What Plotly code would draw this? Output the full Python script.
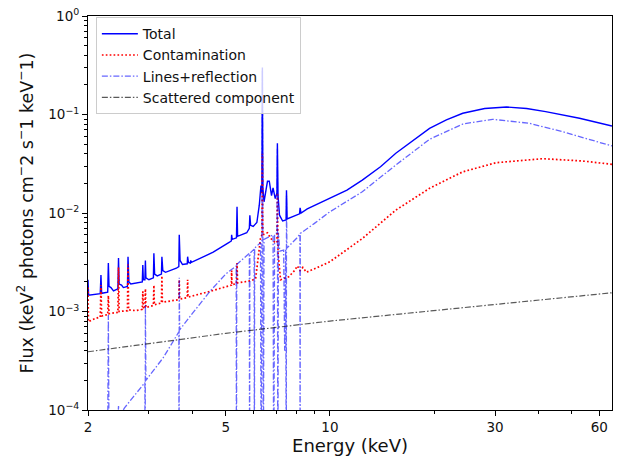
import math
import plotly.graph_objects as go

# ---------------- data ----------------
# Total model (solid blue)
E_total = [2.000, 2.008, 2.17, 2.18, 2.19, 2.28, 2.29, 2.30, 2.33, 2.37,
           2.44, 2.45, 2.46, 2.50, 2.53, 2.60, 2.61, 2.625, 2.66, 2.80,
           2.87, 2.88, 2.89, 2.92, 2.93, 2.94, 3.00, 3.09, 3.10, 3.115,
           3.17, 3.26, 3.27, 3.29, 3.35, 3.60, 3.66, 3.67, 3.69, 3.75,
           3.87, 3.88, 3.90, 3.95, 3.96, 3.98, 4.20, 4.60, 5.10, 5.19,
           5.20, 5.22, 5.37, 5.39, 5.41, 5.75, 5.85, 5.87, 5.90, 6.00,
           6.15, 6.25, 6.32, 6.36, 6.38, 6.40, 6.45, 6.60, 6.68, 6.78,
           6.85, 6.95, 7.03, 7.05, 7.08, 7.15, 7.30, 7.47, 7.49, 7.52,
           8.00, 8.17, 8.20, 8.25, 8.60, 10.0, 11.2, 12.4, 14.0, 15.5,
           17.4, 19.4, 21.7, 24.2, 28.0, 32.4, 37.0, 42.0, 52.6, 65.3]
F_total = [2.1e-3, 1.46e-3, 1.52e-3, 2.35e-3, 1.53e-3, 1.57e-3, 3.1e-3, 1.8e-3, 1.75e-3, 1.62e-3,
           1.7e-3, 3.5e-3, 1.9e-3, 1.85e-3, 1.75e-3, 1.8e-3, 3.6e-3, 2.0e-3, 1.9e-3, 1.95e-3,
           2.0e-3, 2.96e-3, 2.1e-3, 2.1e-3, 3.3e-3, 2.2e-3, 2.1e-3, 2.2e-3, 3.9e-3, 2.4e-3,
           2.3e-3, 2.4e-3, 3.6e-3, 2.6e-3, 2.5e-3, 2.75e-3, 2.85e-3, 6.0e-3, 3.3e-3, 3.0e-3,
           3.05e-3, 3.6e-3, 3.15e-3, 3.1e-3, 3.3e-3, 3.15e-3, 3.45e-3, 4.0e-3, 5.0e-3, 5.2e-3,
           6.0e-3, 5.4e-3, 5.6e-3, 1.16e-2, 5.8e-3, 6.3e-3, 7.0e-3, 9.5e-3, 7.5e-3, 7.3e-3,
           8.0e-3, 1.2e-2, 1.9e-2, 1.6e-2, 0.30, 1.8e-2, 1.3e-2, 2.1e-2, 2.1e-2, 1.5e-2,
           1.8e-2, 1.4e-2, 1.6e-2, 0.051, 1.5e-2, 9.5e-3, 8.3e-3, 8.5e-3, 1.7e-2, 8.7e-3,
           9.5e-3, 9.8e-3, 1.13e-2, 1.0e-2, 1.1e-2, 1.42e-2, 1.71e-2, 2.16e-2, 2.95e-2, 4.04e-2,
           5.42e-2, 7.24e-2, 8.8e-2, 0.103, 0.115, 0.119, 0.115, 0.107, 0.0915, 0.0764]

# Contamination (red dotted)
E_cont = [2.000, 2.006, 2.10, 2.17, 2.18, 2.19, 2.28, 2.29, 2.30, 2.44,
          2.45, 2.46, 2.60, 2.61, 2.62, 2.75, 2.87, 2.88, 2.89, 2.92,
          2.93, 2.94, 3.09, 3.10, 3.11, 3.26, 3.27, 3.28, 3.66, 3.67,
          3.68, 3.87, 3.88, 3.89, 4.50, 5.00, 5.19, 5.20, 5.21, 5.37,
          5.39, 5.41, 5.90, 6.10, 6.20, 6.30, 6.36, 6.38, 6.40, 6.60,
          6.75, 6.95, 7.03, 7.05, 7.08, 7.20, 7.60, 7.90, 8.05, 8.20,
          8.35, 8.55, 9.20, 10.0, 12.4, 15.5, 19.4, 24.2, 30.2, 41.2,
          53.7, 65.3]
F_cont = [1.75e-3, 7.9e-4, 8.5e-4, 8.8e-4, 1.85e-3, 9.0e-4, 9.3e-4, 1.45e-3, 9.5e-4, 9.8e-4,
          2.8e-3, 1.0e-3, 1.02e-3, 3.0e-3, 1.04e-3, 1.02e-3, 1.05e-3, 1.6e-3, 1.07e-3, 1.08e-3,
          1.7e-3, 1.1e-3, 1.15e-3, 1.85e-3, 1.17e-3, 1.22e-3, 2.3e-3, 1.24e-3, 1.32e-3, 2.1e-3,
          1.34e-3, 1.38e-3, 2.1e-3, 1.4e-3, 1.6e-3, 1.78e-3, 1.85e-3, 2.6e-3, 1.87e-3, 1.92e-3,
          3.1e-3, 1.95e-3, 2.05e-3, 2.15e-3, 3.5e-3, 5.5e-3, 6.0e-3, 0.04, 6.0e-3, 6.3e-3,
          5.5e-3, 5.0e-3, 5.0e-3, 0.016, 4.0e-3, 2.1e-3, 2.25e-3, 2.6e-3, 2.9e-3, 2.6e-3,
          2.8e-3, 2.5e-3, 2.8e-3, 3.2e-3, 5.5e-3, 1.07e-2, 1.78e-2, 2.62e-2, 3.24e-2, 3.56e-2,
          3.37e-2, 3.12e-2]

# Lines + reflection (light blue dash-dot)
E_lines = [2.00, 2.28, 2.29, 2.30, 2.44, 2.45, 2.46, 2.55, 2.70, 2.92,
           2.925, 2.93, 2.94, 3.30, 3.66, 3.665, 3.67, 3.68, 4.00, 4.50,
           5.00, 5.36, 5.37, 5.38, 5.85, 5.86, 5.87, 6.04, 6.05, 6.06,
           6.30, 6.33, 6.36, 6.38, 6.40, 6.42, 6.45, 6.85, 6.88, 6.92,
           7.03, 7.05, 7.07, 7.10, 7.16, 7.35, 7.40, 7.45, 7.48, 7.49,
           7.51, 8.00, 8.19, 8.20, 8.21, 9.00, 10.0, 12.4, 15.5, 19.4,
           24.2, 29.5, 37.7, 47.0, 65.3]
F_lines = [3.0e-5, 5.0e-5, 9.2e-4, 5.0e-5, 8.0e-5, 1.1e-4, 8.5e-5, 1.05e-4, 1.35e-4, 1.9e-4,
           1e-5, 1.17e-3, 2.0e-4, 3.4e-4, 6.2e-4, 1e-5, 2.2e-3, 6.5e-4, 9.5e-4, 1.6e-3,
           2.4e-3, 2.9e-3, 1e-5, 3.0e-3, 3.9e-3, 1e-5, 3.9e-3, 4.3e-3, 1e-5, 4.4e-3,
           5.0e-3, 1e-5, 5.0e-3, 0.28, 5.3e-3, 1e-5, 5.4e-3, 6.0e-3, 1e-5, 6.1e-3,
           6.3e-3, 0.045, 1e-5, 6.3e-3, 4.1e-3, 4.2e-3, 4.0e-4, 4.3e-3, 1e-5, 0.015,
           4.4e-3, 5.5e-3, 6.1e-3, 1e-5, 6.2e-3, 7.8e-3, 1.03e-2, 1.64e-2, 3.07e-2, 5.6e-2,
           8.0e-2, 8.94e-2, 8.14e-2, 6.69e-2, 4.79e-2]

# Scattered component (grey dash-dot)
E_scat = [2.0, 5.0, 10.0, 30.0, 65.3]
F_scat = [3.9e-4, 6.0e-4, 8.0e-4, 1.18e-3, 1.55e-3]

# axis ticks
x_ticks = [2, 5, 10, 30, 60]
x_ticklabels = ["2", "5", "10", "30", "60"]
x_minor = [3, 4, 6, 7, 8, 9, 20, 40, 50]
y_ticks = [1e-4, 1e-3, 1e-2, 1e-1, 1]
y_ticklabels = ["10<sup>\u22124</sup>", "10<sup>\u22123</sup>", "10<sup>\u22122</sup>",
                "10<sup>\u22121</sup>", "10<sup>0</sup>"]
y_minor = [k * 10.0 ** e for e in (-4, -3, -2, -1) for k in range(2, 10)]

# ---------------- figure ----------------
fig = go.Figure()
fig.add_trace(go.Scatter(x=E_total, y=F_total, mode="lines", name="Total",
                         line=dict(color="#0000ff", width=1.4)))
fig.add_trace(go.Scatter(x=E_cont, y=F_cont, mode="lines", name="Contamination",
                         line=dict(color="#ff0000", width=1.7, dash="1.7px,2.2px")))
fig.add_trace(go.Scatter(x=E_lines, y=F_lines, mode="lines", name="Lines+reflection",
                         line=dict(color="rgba(0,0,255,0.6)", width=1.3,
                                   dash="6px,2px,1.5px,2px")))
fig.add_trace(go.Scatter(x=E_scat, y=F_scat, mode="lines", name="Scattered component",
                         line=dict(color="rgba(0,0,0,0.65)", width=1.2,
                                   dash="6px,2px,1.5px,2px")))

axis_common = dict(showline=True, linecolor="#000000", linewidth=1, mirror=True,
                   showgrid=False, zeroline=False, ticks="outside", ticklen=5,
                   tickwidth=1, tickcolor="#000000", automargin=False,
                   ticklabeloverflow="allow",
                   tickfont=dict(size=13.5, color="#111111"))

fig.update_xaxes(type="log", range=[math.log10(2), math.log10(65.3)],
                 tickmode="array", tickvals=x_ticks, ticktext=x_ticklabels,
                 minor=dict(tickmode="array", tickvals=x_minor, ticks="outside",
                            ticklen=3, tickcolor="#000000"),
                 title=dict(text="Energy (keV)", font=dict(size=18, color="#111111"),
                            standoff=5),
                 **axis_common)
fig.update_yaxes(type="log", range=[-4, 0],
                 tickmode="array", tickvals=y_ticks, ticktext=y_ticklabels,
                 minor=dict(tickmode="array", tickvals=y_minor, ticks="outside",
                            ticklen=3, tickcolor="#000000"),
                 title=dict(text="Flux (keV<sup>2</sup> photons cm<sup>\u2212</sup>2 s<sup>\u2212</sup>1 keV<sup>\u2212</sup>1)",
                            font=dict(size=17.5, color="#111111"), standoff=10),
                 **axis_common)

fig.update_layout(
    width=622, height=458,
    margin=dict(l=88, r=10, t=16, b=48),
    paper_bgcolor="white", plot_bgcolor="white",
    font=dict(family="DejaVu Sans", size=13.5, color="#111111"),
    showlegend=True,
    legend=dict(x=0.015, y=0.997, xanchor="left", yanchor="top",
                bgcolor="rgba(255,255,255,0.8)", bordercolor="#cccccc", borderwidth=1,
                font=dict(size=14), itemwidth=36, tracegroupgap=0),
)

# remove the default page margin so the figure fills the window exactly
fig.write_html("out.html", config={"displayModeBar": False},
               post_script="document.body.style.margin='0px';")
